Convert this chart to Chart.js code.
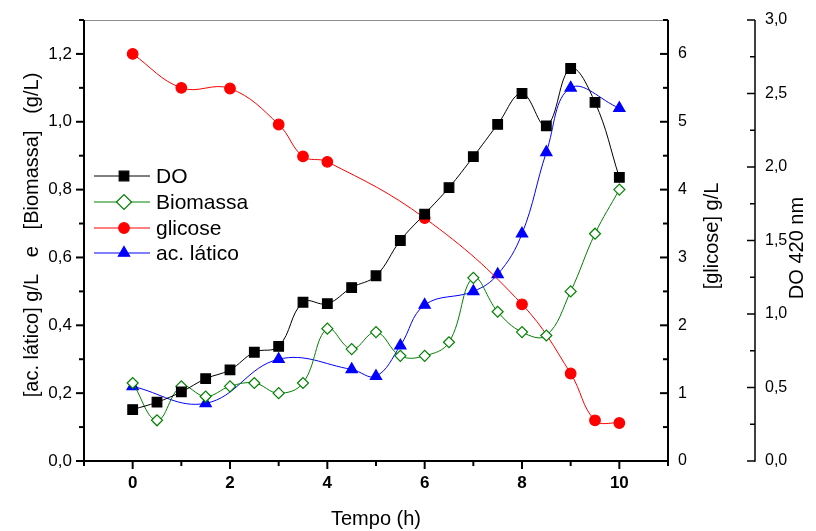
<!DOCTYPE html>
<html lang="pt">
<head>
<meta charset="UTF-8">
<title>Fermentação: DO, biomassa, glicose e ácido lático</title>
<style>
  body { margin: 0; background: #fff; }
  #wrap { width: 816px; height: 531px; }
</style>
<script src="https://cdn.jsdelivr.net/npm/chart.js"></script>
</head>
<body>
<div id="wrap"><canvas id="chart" width="816" height="531"></canvas></div>
<script>
// tempos de coleta (h) e medidas de cada série
const tempoDO = [0, 0.5, 1, 1.5, 2, 2.5, 3, 3.5, 4, 4.5, 5, 5.5, 6, 6.5, 7, 7.5, 8, 8.5, 9, 9.5, 10];
const valoresDO = [0.35, 0.40, 0.47, 0.56, 0.62, 0.74, 0.78, 1.08, 1.07, 1.18, 1.26, 1.50, 1.68, 1.86, 2.07, 2.29, 2.50, 2.28, 2.67, 2.44, 1.93];

const tempoBiomassa = [0, 0.5, 1, 1.5, 2, 2.5, 3, 3.5, 4, 4.5, 5, 5.5, 6, 6.5, 7, 7.5, 8, 8.5, 9, 9.5, 10];
const valoresBiomassa = [0.23, 0.12, 0.22, 0.19, 0.22, 0.23, 0.20, 0.23, 0.39, 0.33, 0.38, 0.31, 0.31, 0.35, 0.54, 0.44, 0.38, 0.37, 0.50, 0.67, 0.80];

const tempoGlicose = [0, 1, 2, 3, 3.5, 4, 6, 8, 9, 9.5, 10];
const valoresGlicose = [6.0, 5.5, 5.49, 4.96, 4.49, 4.41, 3.58, 2.31, 1.29, 0.60, 0.56];

const tempoLatico = [0, 1.5, 3, 4.5, 5, 5.5, 6, 7, 7.5, 8, 8.5, 9, 10];
const valoresLatico = [0.22, 0.17, 0.30, 0.27, 0.25, 0.34, 0.46, 0.50, 0.55, 0.67, 0.91, 1.10, 1.04];

const pares = (xs, ys) => xs.map((x, i) => ({ x: x, y: ys[i] }));
const virgula = v => v.toFixed(1).replace('.', ',');
const FONTE = '"Liberation Sans", Arial, sans-serif';

// eixos no estilo Origin: linhas grossas, marcas maiores nos valores com rótulo
const eixos = {
  id: 'eixos',
  afterDraw(chart) {
    const { ctx, chartArea: a, scales } = chart;
    const seg = (x1, y1, x2, y2) => { ctx.beginPath(); ctx.moveTo(x1, y1); ctx.lineTo(x2, y2); ctx.stroke(); };
    ctx.save();
    ctx.strokeStyle = '#8c8c8c';
    ctx.lineWidth = 1;
    seg(a.left, a.top + 0.5, a.right, a.top + 0.5);

    ctx.strokeStyle = '#000';
    ctx.lineWidth = 2;
    seg(a.left, a.top, a.left, a.bottom + 1);
    seg(a.left - 1, a.bottom, a.right + 1, a.bottom);
    seg(a.right, a.top, a.right, a.bottom + 1);

    const tam = t => (t.label !== '' ? 8 : 5);
    scales.x.ticks.forEach(t => {
      const p = scales.x.getPixelForValue(t.value);
      seg(p, a.bottom, p, a.bottom + tam(t));
    });
    scales.y.ticks.forEach(t => {
      const p = scales.y.getPixelForValue(t.value);
      seg(a.left, p, a.left - tam(t), p);
    });
    scales.y2.ticks.forEach(t => {
      const p = scales.y2.getPixelForValue(t.value);
      seg(a.right, p, a.right - tam(t), p);
    });
    const xDO = scales.y3.left;
    ctx.lineWidth = 1.5;
    seg(xDO, a.top, xDO, a.bottom + 0.75);
    scales.y3.ticks.forEach(t => {
      const p = scales.y3.getPixelForValue(t.value);
      seg(xDO, p, xDO - tam(t), p);
    });

    // títulos dos eixos
    ctx.fillStyle = '#000';
    ctx.textAlign = 'center';
    ctx.textBaseline = 'middle';
    ctx.font = '20px ' + FONTE;
    ctx.fillText('Tempo (h)', (a.left + a.right) / 2, 519);
    const vertical = (txt, x, y) => {
      ctx.save();
      ctx.translate(x, y);
      ctx.rotate(-Math.PI / 2);
      ctx.fillText(txt, 0, 0);
      ctx.restore();
    };
    vertical('[ac. lático] g/L   e   [Biomassa]   (g/L)', 32, 235);
    vertical('[glicose] g/L', 712, 236);
    vertical('DO 420 nm', 797, 248);
    ctx.restore();
  }
};

// legenda dentro da área do gráfico
const legendaInterna = {
  id: 'legendaInterna',
  afterDraw(chart) {
    const ctx = chart.ctx;
    const linhas = [176, 202, 228, 253];
    ctx.save();
    ctx.font = '21px ' + FONTE;
    ctx.textBaseline = 'middle';
    ctx.textAlign = 'left';
    chart.data.datasets.forEach((ds, i) => {
      const y = linhas[i];
      ctx.strokeStyle = ds.borderColor;
      ctx.lineWidth = 1;
      ctx.beginPath();
      ctx.moveTo(94, y);
      ctx.lineTo(150, y);
      ctx.stroke();
      ctx.fillStyle = ds.pointBackgroundColor;
      ctx.strokeStyle = ds.pointBorderColor;
      ctx.lineWidth = ds.pointBorderWidth;
      const r = ds.pointStyle === 'rectRot' ? 7.5 : ds.pointRadius;
      Chart.helpers.drawPoint(ctx, { pointStyle: ds.pointStyle, radius: r, rotation: 0, borderWidth: ds.pointBorderWidth }, 124, y);
      ctx.fillStyle = '#000';
      ctx.fillText(ds.label, 156, y + 1);
    });
    ctx.restore();
  }
};

const serie = (label, dados, cor, estilo, raio, fundo, eixo) => ({
  label: label,
  data: dados,
  yAxisID: eixo,
  borderColor: cor,
  borderWidth: 1,
  tension: 0.4,
  pointStyle: estilo,
  pointRadius: raio,
  pointBackgroundColor: fundo,
  pointBorderColor: cor,
  pointBorderWidth: 1.2,
  clip: false
});

new Chart(document.getElementById('chart'), {
  type: 'line',
  data: {
    datasets: [
      serie('DO', pares(tempoDO, valoresDO), '#000000', 'rect', 6.8, '#000000', 'y3'),
      serie('Biomassa', pares(tempoBiomassa, valoresBiomassa), '#008000', 'rectRot', 5.5, '#ffffff', 'y'),
      serie('glicose', pares(tempoGlicose, valoresGlicose), '#ff0000', 'circle', 5.3, '#ff0000', 'y2'),
      serie('ac. lático', pares(tempoLatico, valoresLatico), '#0000ff', 'triangle', 6.5, '#0000ff', 'y')
    ]
  },
  options: {
    responsive: false,
    animation: false,
    layout: { padding: { top: 20, left: 0, right: 0, bottom: 0 } },
    plugins: { legend: { display: false }, tooltip: { enabled: false } },
    scales: {
      x: {
        type: 'linear',
        position: 'bottom',
        min: -1,
        max: 11,
        afterFit: s => { s.height = 70; },
        border: { display: false },
        grid: { drawOnChartArea: false, drawTicks: true, tickLength: 8, color: 'rgba(0,0,0,0)' },
        ticks: {
          stepSize: 1,
          autoSkip: false,
          maxRotation: 0,
          padding: 4,
          color: '#000',
          font: { family: FONTE, size: 17, weight: 'bold' },
          callback: v => (Math.round(v) % 2 === 0 ? String(Math.round(v)) : '')
        }
      },
      y: {
        position: 'left',
        min: 0,
        max: 1.3,
        afterFit: s => { s.width = 84; },
        border: { display: false },
        grid: { drawOnChartArea: false, drawTicks: true, tickLength: 8, color: 'rgba(0,0,0,0)' },
        ticks: {
          stepSize: 0.1,
          autoSkip: false,
          padding: 4,
          color: '#000',
          font: { family: FONTE, size: 17 },
          callback: v => (Math.round(v * 10) % 2 === 0 ? virgula(v) : '')
        }
      },
      y2: {
        position: 'right',
        weight: 1,
        min: 0,
        max: 6.5,
        afterFit: s => { s.width = 87; },
        border: { display: false },
        grid: { drawOnChartArea: false, drawTicks: true, tickLength: 8, color: 'rgba(0,0,0,0)' },
        ticks: {
          stepSize: 0.5,
          autoSkip: false,
          padding: 2,
          color: '#000',
          font: { family: FONTE, size: 16 },
          callback: v => (Math.round(v * 2) % 2 === 0 ? String(Math.round(v)) : '')
        }
      },
      y3: {
        position: 'right',
        weight: 2,
        min: 0,
        max: 3,
        afterFit: s => { s.width = 61; },
        border: { display: false },
        grid: { drawOnChartArea: false, drawTicks: true, tickLength: 8, color: 'rgba(0,0,0,0)' },
        ticks: {
          stepSize: 0.25,
          autoSkip: false,
          padding: 2,
          color: '#000',
          font: { family: FONTE, size: 16 },
          callback: v => (Math.round(v * 4) % 2 === 0 ? virgula(v) : '')
        }
      }
    }
  },
  plugins: [eixos, legendaInterna]
});
</script>
</body>
</html>
